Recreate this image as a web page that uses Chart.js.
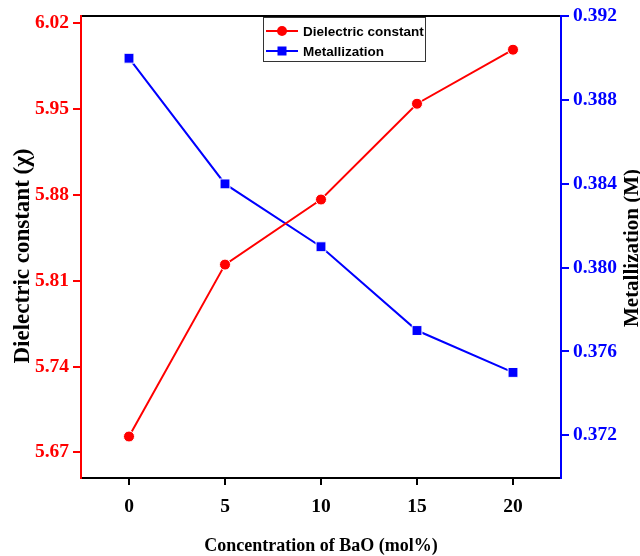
<!DOCTYPE html>
<html>
<head>
<meta charset="utf-8">
<script src="https://cdn.jsdelivr.net/npm/chart.js@4.4.1/dist/chart.umd.min.js"></script>
<style>
  html, body { margin: 0; padding: 0; background: #fff; }
  canvas { display: block; }
</style>
</head>
<body>
<canvas id="c" width="640" height="556"></canvas>
<script>
// BaO content (mol%)
const concentration = [0, 5, 10, 15, 20];
// Dielectric constant for each composition
const dielectricConstant = [5.683, 5.823, 5.876, 5.954, 5.998];
// Metallization criterion for each composition
const metallization = [0.390, 0.384, 0.381, 0.377, 0.375];

// Tick labels shown on each axis
const xTickValues = [0, 5, 10, 15, 20];
const leftTickValues = [5.67, 5.74, 5.81, 5.88, 5.95, 6.02];
const rightTickValues = [0.372, 0.376, 0.380, 0.384, 0.388, 0.392];

// Axis titles
const xTitle = 'Concentration of BaO (mol%)';
const leftTitle = 'Dielectric constant (χ)';
const rightTitle = 'Metallization (M)';

const serif = '"Liberation Serif", "Times New Roman", serif';
const RED = '#ff0000';
const BLUE = '#0000ff';
const tickFont = { family: serif, weight: 'bold', size: 19.5 };

// Both vertical axis titles read bottom-to-top
const sideTitles = {
  id: 'sideTitles',
  afterDraw(chart) {
    const ctx = chart.ctx;
    const draw = (text, x, y, size) => {
      ctx.save();
      ctx.translate(x, y);
      ctx.rotate(-Math.PI / 2);
      ctx.font = 'bold ' + size + 'px ' + serif;
      ctx.fillStyle = '#000';
      ctx.textAlign = 'center';
      ctx.textBaseline = 'alphabetic';
      ctx.fillText(text, 0, 0);
      ctx.restore();
    };
    draw(leftTitle, 29, 256, 23);
    draw(rightTitle, 638, 248, 21);
  }
};

// Boxed legend with line+marker samples, drawn inside the plot area
const boxedLegend = {
  id: 'boxedLegend',
  afterDraw(chart) {
    const ctx = chart.ctx;
    const x0 = 263, y0 = 17, w = 162, h = 44;
    ctx.save();
    ctx.fillStyle = '#fff';
    ctx.fillRect(x0, y0, w, h);
    ctx.strokeStyle = '#333';
    ctx.lineWidth = 1;
    ctx.strokeRect(x0 + 0.5, y0 + 0.5, w, h);
    chart.data.datasets.forEach((ds, i) => {
      const y = y0 + 14 + i * 20;
      ctx.strokeStyle = ds.borderColor;
      ctx.lineWidth = 2;
      ctx.beginPath();
      ctx.moveTo(x0 + 3, y);
      ctx.lineTo(x0 + 35, y);
      ctx.stroke();
      ctx.fillStyle = ds.pointBackgroundColor;
      if (ds.pointStyle === 'rect') {
        ctx.fillRect(x0 + 19 - 4.5, y - 4.5, 9, 9);
      } else {
        ctx.beginPath();
        ctx.arc(x0 + 19, y, 5, 0, Math.PI * 2);
        ctx.fill();
      }
      ctx.fillStyle = '#000';
      ctx.font = 'bold 13.5px "Liberation Sans", Arial, sans-serif';
      ctx.textBaseline = 'middle';
      ctx.textAlign = 'left';
      ctx.fillText(ds.label, x0 + 40, y + 1);
    });
    ctx.restore();
  }
};

new Chart(document.getElementById('c'), {
  type: 'line',
  data: {
    datasets: [
      {
        label: 'Dielectric constant',
        data: concentration.map((x, i) => ({ x, y: dielectricConstant[i] })),
        yAxisID: 'y',
        xAxisID: 'x',
        borderColor: RED,
        backgroundColor: RED,
        pointBackgroundColor: RED,
        pointBorderColor: '#fff',
        pointBorderWidth: 1,
        pointStyle: 'circle',
        pointRadius: 5.5,
        borderWidth: 2,
        tension: 0
      },
      {
        label: 'Metallization',
        data: concentration.map((x, i) => ({ x, y: metallization[i] })),
        yAxisID: 'y1',
        xAxisID: 'x',
        borderColor: BLUE,
        backgroundColor: BLUE,
        pointBackgroundColor: BLUE,
        pointBorderColor: '#fff',
        pointBorderWidth: 1,
        pointStyle: 'rect',
        pointRadius: 7,
        borderWidth: 2,
        tension: 0
      }
    ]
  },
  options: {
    responsive: false,
    animation: false,
    devicePixelRatio: 1,
    layout: { padding: 0 },
    plugins: {
      legend: { display: false },
      tooltip: { enabled: false }
    },
    scales: {
      x: {
        type: 'linear',
        position: 'bottom',
        min: -2.5,
        max: 22.5,
        afterBuildTicks: s => { s.ticks = xTickValues.map(v => ({ value: v })); },
        afterFit: s => { s.height = 78; },
        ticks: {
          color: '#000',
          font: tickFont,
          padding: 10,
          maxRotation: 0,
          callback: v => String(v)
        },
        grid: { drawOnChartArea: false, color: '#000', lineWidth: 2, tickLength: 7 },
        border: { color: '#000', width: 2 },
        title: {
          display: true,
          text: xTitle,
          color: '#000',
          font: { family: serif, weight: 'bold', size: 18, lineHeight: 1 },
          padding: { top: 0, bottom: 1 }
        }
      },
      xTop: {
        type: 'linear',
        position: 'top',
        min: -2.5,
        max: 22.5,
        afterFit: s => { s.height = 13; },
        ticks: { display: false },
        grid: { display: false },
        border: { color: '#000', width: 2 }
      },
      y: {
        type: 'linear',
        position: 'left',
        min: 5.6492,
        max: 6.0257,
        afterBuildTicks: s => { s.ticks = leftTickValues.map(v => ({ value: v })); },
        afterFit: s => { s.width = 81; },
        ticks: {
          color: RED,
          font: tickFont,
          padding: 4,
          callback: v => Number(v).toFixed(2)
        },
        grid: { drawOnChartArea: false, color: RED, lineWidth: 2, tickLength: 8 },
        border: { color: RED, width: 2 },
        title: { display: false }
      },
      y1: {
        type: 'linear',
        position: 'right',
        min: 0.36996,
        max: 0.39203,
        afterBuildTicks: s => { s.ticks = rightTickValues.map(v => ({ value: v })); },
        afterFit: s => { s.width = 79; },
        ticks: {
          color: BLUE,
          font: tickFont,
          padding: 4,
          callback: v => Number(v).toFixed(3)
        },
        grid: { drawOnChartArea: false, color: BLUE, lineWidth: 2, tickLength: 8 },
        border: { color: BLUE, width: 2 },
        title: { display: false }
      }
    }
  },
  plugins: [boxedLegend, sideTitles]
});
</script>
</body>
</html>
